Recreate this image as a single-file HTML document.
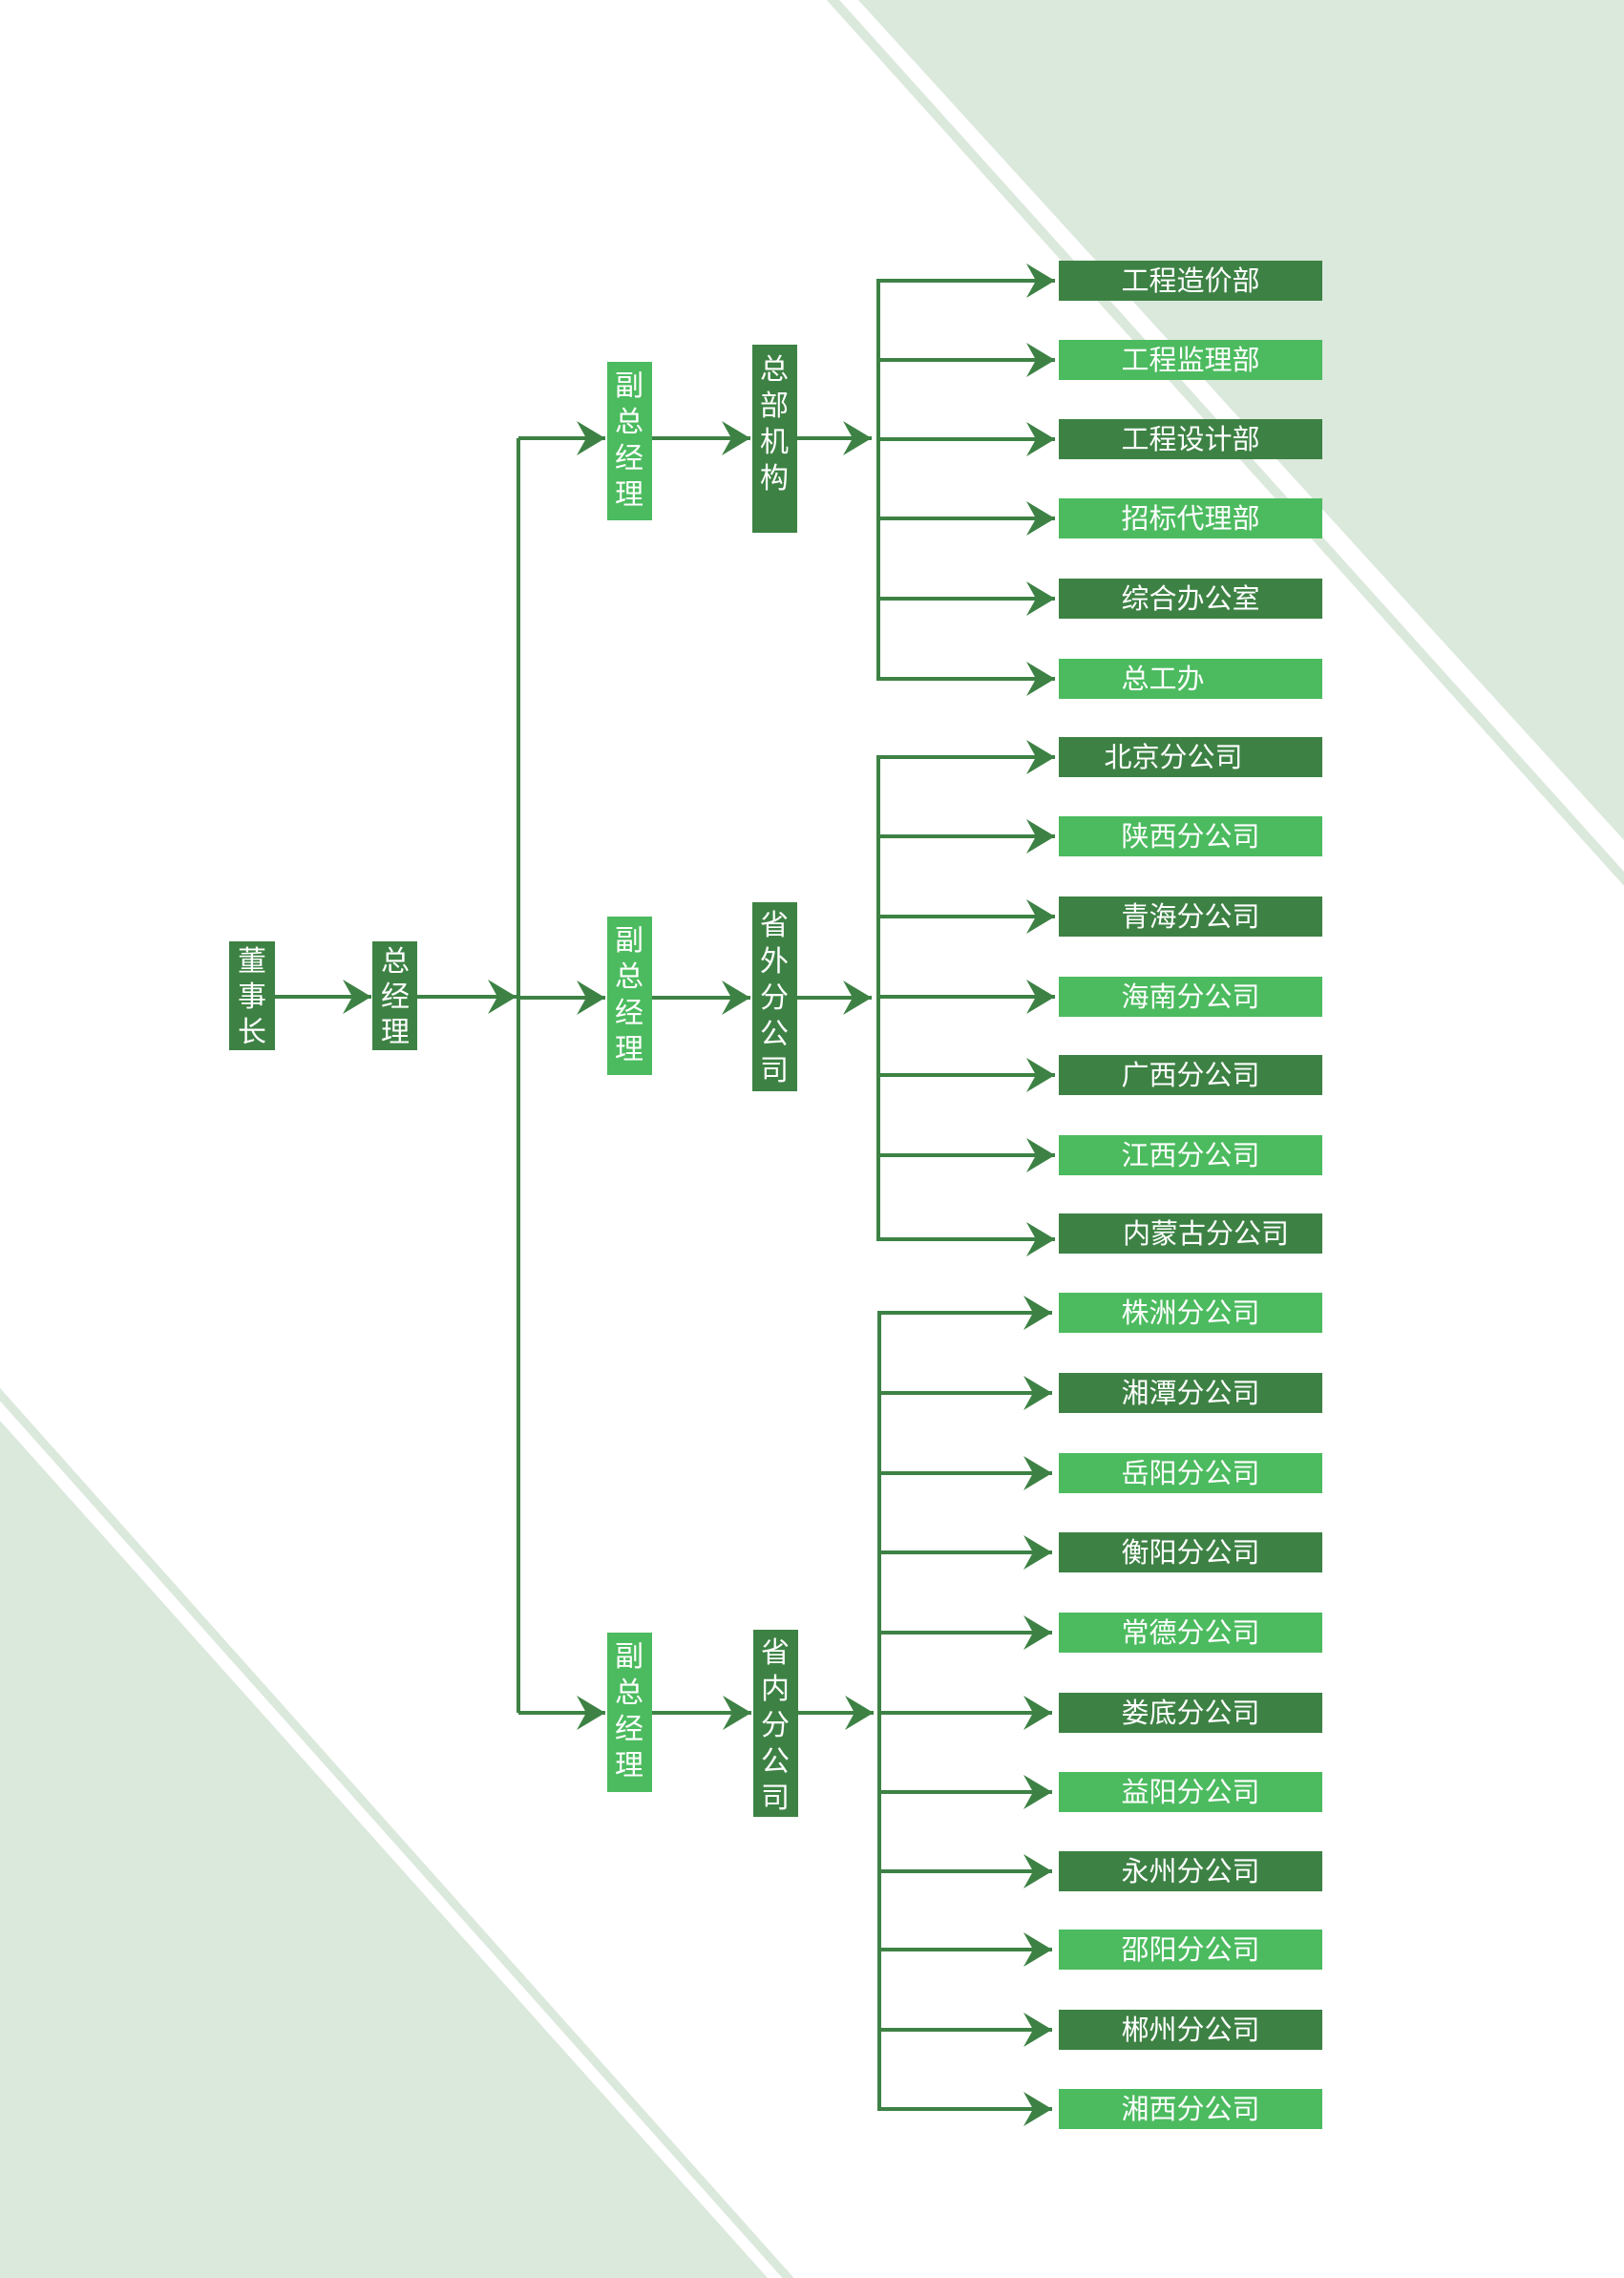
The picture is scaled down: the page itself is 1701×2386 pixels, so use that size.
<!DOCTYPE html>
<html><head><meta charset="utf-8"><style>
html,body{margin:0;padding:0;background:#fff}
svg{display:block}
text{font-family:"Liberation Sans","Noto Sans CJK SC",sans-serif;fill:#fff}
</style></head><body>
<svg width="1701" height="2386" viewBox="0 0 1701 2386" xmlns="http://www.w3.org/2000/svg">
<defs>
<marker id="a" markerUnits="userSpaceOnUse" markerWidth="34" markerHeight="40" refX="32" refY="20" orient="auto">
<path d="M32,20 L2,2 L12,20 L2,38 Z" fill="#3d8244"/>
</marker>
</defs>
<!-- background -->
<polygon points="899,0 1701,0 1701,880" fill="#dbe8dc"/>
<line x1="868" y1="-5" x2="1706" y2="926" stroke="#dbe8dc" stroke-width="10"/>
<polygon points="0,1488 804,2386 0,2386" fill="#dbe8dc"/>
<line x1="-5" y1="1455" x2="830" y2="2391" stroke="#dbe8dc" stroke-width="9"/>

<g stroke="#3d8244" stroke-width="4" fill="none">
<line x1="288" y1="1044" x2="389" y2="1044" marker-end="url(#a)"/>
<line x1="437" y1="1044" x2="541" y2="1044" marker-end="url(#a)"/>
<polyline points="543,459 543,1794"/>
<line x1="543" y1="459" x2="634" y2="459" marker-end="url(#a)"/>
<line x1="543" y1="1045" x2="634" y2="1045" marker-end="url(#a)"/>
<line x1="543" y1="1794" x2="634" y2="1794" marker-end="url(#a)"/>
<line x1="683" y1="459" x2="786" y2="459" marker-end="url(#a)"/>
<line x1="683" y1="1045" x2="786" y2="1045" marker-end="url(#a)"/>
<line x1="683" y1="1794" x2="787" y2="1794" marker-end="url(#a)"/>
<line x1="835" y1="459" x2="913" y2="459" marker-end="url(#a)"/>
<line x1="835" y1="1045" x2="913" y2="1045" marker-end="url(#a)"/>
<line x1="836" y1="1794" x2="915" y2="1794" marker-end="url(#a)"/>
<line x1="920" y1="292" x2="920" y2="713"/>
<line x1="920" y1="791" x2="920" y2="1300"/>
<line x1="921" y1="1373" x2="921" y2="2211"/>
</g>
<g stroke="#3d8244" stroke-width="4">
<line x1="920" y1="294" x2="1105" y2="294" marker-end="url(#a)"/>
<line x1="920" y1="377" x2="1105" y2="377" marker-end="url(#a)"/>
<line x1="920" y1="460" x2="1105" y2="460" marker-end="url(#a)"/>
<line x1="920" y1="543" x2="1105" y2="543" marker-end="url(#a)"/>
<line x1="920" y1="627" x2="1105" y2="627" marker-end="url(#a)"/>
<line x1="920" y1="711" x2="1105" y2="711" marker-end="url(#a)"/>
<line x1="920" y1="793" x2="1105" y2="793" marker-end="url(#a)"/>
<line x1="920" y1="876" x2="1105" y2="876" marker-end="url(#a)"/>
<line x1="920" y1="960" x2="1105" y2="960" marker-end="url(#a)"/>
<line x1="920" y1="1044" x2="1105" y2="1044" marker-end="url(#a)"/>
<line x1="920" y1="1126" x2="1105" y2="1126" marker-end="url(#a)"/>
<line x1="920" y1="1210" x2="1105" y2="1210" marker-end="url(#a)"/>
<line x1="920" y1="1298" x2="1105" y2="1298" marker-end="url(#a)"/>
<line x1="921" y1="1375" x2="1102" y2="1375" marker-end="url(#a)"/>
<line x1="921" y1="1459" x2="1102" y2="1459" marker-end="url(#a)"/>
<line x1="921" y1="1543" x2="1102" y2="1543" marker-end="url(#a)"/>
<line x1="921" y1="1626" x2="1102" y2="1626" marker-end="url(#a)"/>
<line x1="921" y1="1710" x2="1102" y2="1710" marker-end="url(#a)"/>
<line x1="921" y1="1794" x2="1102" y2="1794" marker-end="url(#a)"/>
<line x1="921" y1="1877" x2="1102" y2="1877" marker-end="url(#a)"/>
<line x1="921" y1="1960" x2="1102" y2="1960" marker-end="url(#a)"/>
<line x1="921" y1="2042" x2="1102" y2="2042" marker-end="url(#a)"/>
<line x1="921" y1="2126" x2="1102" y2="2126" marker-end="url(#a)"/>
<line x1="921" y1="2209" x2="1102" y2="2209" marker-end="url(#a)"/>
</g>

<rect x="240" y="986" width="48" height="114" fill="#3d8244"/>
<text x="264" y="1017" font-size="30" text-anchor="middle">董</text>
<text x="264" y="1054" font-size="30" text-anchor="middle">事</text>
<text x="264" y="1091" font-size="30" text-anchor="middle">长</text>
<rect x="390" y="986" width="47" height="114" fill="#3d8244"/>
<text x="414" y="1017" font-size="30" text-anchor="middle">总</text>
<text x="414" y="1054" font-size="30" text-anchor="middle">经</text>
<text x="414" y="1091" font-size="30" text-anchor="middle">理</text>

<g font-size="30" text-anchor="middle">
<rect x="636" y="379" width="47" height="166" fill="#4cbb5f"/>
<text x="659" y="414">副</text><text x="659" y="452">总</text><text x="659" y="490">经</text><text x="659" y="528">理</text>
<rect x="636" y="960" width="47" height="166" fill="#4cbb5f"/>
<text x="659" y="995">副</text><text x="659" y="1033">总</text><text x="659" y="1071">经</text><text x="659" y="1109">理</text>
<rect x="636" y="1710" width="47" height="167" fill="#4cbb5f"/>
<text x="659" y="1745">副</text><text x="659" y="1783">总</text><text x="659" y="1821">经</text><text x="659" y="1859">理</text>

<rect x="788" y="361" width="47" height="197" fill="#3d8244"/>
<text x="811" y="397">总</text><text x="811" y="435">部</text><text x="811" y="473">机</text><text x="811" y="511">构</text>
<rect x="788" y="945" width="47" height="198" fill="#3d8244"/>
<text x="811" y="979">省</text><text x="811" y="1017">外</text><text x="811" y="1055">分</text><text x="811" y="1093">公</text><text x="811" y="1131">司</text>
<rect x="789" y="1707" width="47" height="196" fill="#3d8244"/>
<text x="812" y="1741">省</text><text x="812" y="1779">内</text><text x="812" y="1817">分</text><text x="812" y="1855">公</text><text x="812" y="1893">司</text>
</g>

<g font-size="29" text-anchor="middle">
<rect x="1109" y="273" width="276" height="42" fill="#3d8244"/><text x="1247" y="304">工程造价部</text>
<rect x="1109" y="356" width="276" height="42" fill="#4cbb5f"/><text x="1247" y="387">工程监理部</text>
<rect x="1109" y="439" width="276" height="42" fill="#3d8244"/><text x="1247" y="470">工程设计部</text>
<rect x="1109" y="522" width="276" height="42" fill="#4cbb5f"/><text x="1247" y="553">招标代理部</text>
<rect x="1109" y="606" width="276" height="42" fill="#3d8244"/><text x="1247" y="637">综合办公室</text>
<rect x="1109" y="690" width="276" height="42" fill="#4cbb5f"/><text x="1218" y="721">总工办</text>

<rect x="1109" y="772" width="276" height="42" fill="#3d8244"/><text x="1229" y="803">北京分公司</text>
<rect x="1109" y="855" width="276" height="42" fill="#4cbb5f"/><text x="1247" y="886">陕西分公司</text>
<rect x="1109" y="939" width="276" height="42" fill="#3d8244"/><text x="1247" y="970">青海分公司</text>
<rect x="1109" y="1023" width="276" height="42" fill="#4cbb5f"/><text x="1247" y="1054">海南分公司</text>
<rect x="1109" y="1105" width="276" height="42" fill="#3d8244"/><text x="1247" y="1136">广西分公司</text>
<rect x="1109" y="1189" width="276" height="42" fill="#4cbb5f"/><text x="1247" y="1220">江西分公司</text>
<rect x="1109" y="1271" width="276" height="42" fill="#3d8244"/><text x="1263" y="1302">内蒙古分公司</text>

<rect x="1109" y="1354" width="276" height="42" fill="#4cbb5f"/><text x="1247" y="1385">株洲分公司</text>
<rect x="1109" y="1438" width="276" height="42" fill="#3d8244"/><text x="1247" y="1469">湘潭分公司</text>
<rect x="1109" y="1522" width="276" height="42" fill="#4cbb5f"/><text x="1247" y="1553">岳阳分公司</text>
<rect x="1109" y="1605" width="276" height="42" fill="#3d8244"/><text x="1247" y="1636">衡阳分公司</text>
<rect x="1109" y="1689" width="276" height="42" fill="#4cbb5f"/><text x="1247" y="1720">常德分公司</text>
<rect x="1109" y="1773" width="276" height="42" fill="#3d8244"/><text x="1247" y="1804">娄底分公司</text>
<rect x="1109" y="1856" width="276" height="42" fill="#4cbb5f"/><text x="1247" y="1887">益阳分公司</text>
<rect x="1109" y="1939" width="276" height="42" fill="#3d8244"/><text x="1247" y="1970">永州分公司</text>
<rect x="1109" y="2021" width="276" height="42" fill="#4cbb5f"/><text x="1247" y="2052">邵阳分公司</text>
<rect x="1109" y="2105" width="276" height="42" fill="#3d8244"/><text x="1247" y="2136">郴州分公司</text>
<rect x="1109" y="2188" width="276" height="42" fill="#4cbb5f"/><text x="1247" y="2219">湘西分公司</text>
</g>
</svg>
</body></html>
